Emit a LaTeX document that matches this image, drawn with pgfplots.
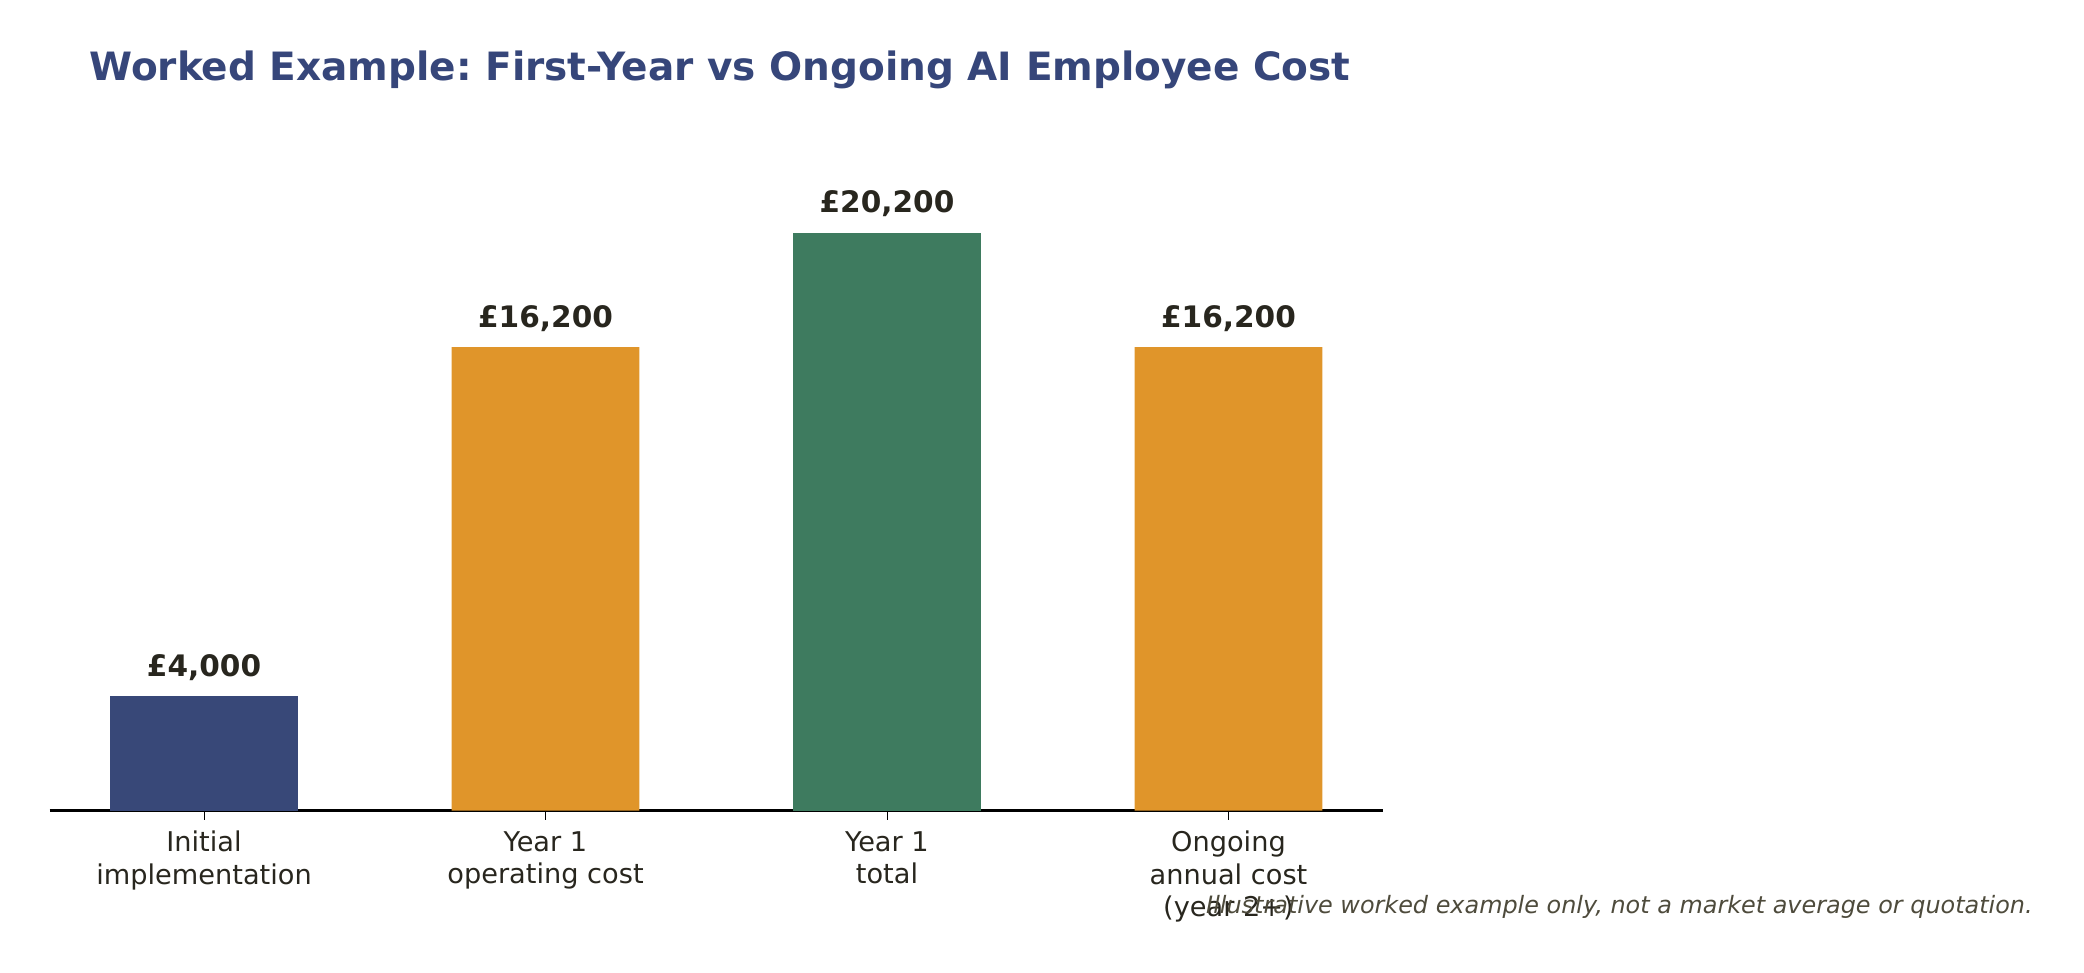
\documentclass[border=0pt]{standalone}
\usepackage{fontspec}
\setmainfont{DejaVu Sans}
\usepackage{pgfplots}
\pgfplotsset{compat=1.18}
\frenchspacing
\definecolor{titlec}{RGB}{54,70,122}
\definecolor{navy}{RGB}{56,72,120}
\definecolor{orange}{RGB}{224,149,42}
\definecolor{green}{RGB}{62,123,95}
\definecolor{labc}{RGB}{40,38,30}
\definecolor{footc}{RGB}{78,75,60}
\begin{document}
\begin{tikzpicture}
\useasboundingbox (0,0) rectangle (1042pt,486.5pt);
\node[anchor=base west, inner sep=0pt, text=titlec, font=\bfseries\fontsize{19.5}{23}\selectfont] at (44.5pt,446pt) {Worked Example: First-Year vs Ongoing AI Employee Cost};
\begin{axis}[
  at={(24.75pt,81.15pt)}, anchor=south west,
  scale only axis, width=666.75pt, height=303.5pt,
  xmin=-0.4525, xmax=3.4525, ymin=0, ymax=21210,
  axis x line*=bottom, axis y line=none,
  x axis line style={-, line width=1.2pt, black},
  xtick={0,1,2,3},
  xticklabels={{Initial\\implementation},{Year 1\\operating cost},{Year 1\\total},{Ongoing\\annual cost\\(year 2+)}},
  xticklabel style={align=center, anchor=north, inner sep=0pt, yshift=-5.6pt, text=labc, font=\fontsize{13.6}{16.1}\selectfont},
  tick align=outside, major tick length=4.5pt,
  every tick/.style={black, line width=0.5pt},
  ybar, bar width=0.55, bar shift=0pt,
  point meta=explicit symbolic,
  nodes near coords,
  nodes near coords style={anchor=base, inner sep=0pt, yshift=9.9pt, text=labc, font=\bfseries\fontsize{14.8}{17}\selectfont},
  clip=false,
]
\addplot[draw=none, fill=navy] coordinates {(0,4000) [£4,000]};
\addplot[draw=none, fill=orange] coordinates {(1,16200) [£16,200] (3,16200) [£16,200]};
\addplot[draw=none, fill=green] coordinates {(2,20200) [£20,200]};
\end{axis}
\node[anchor=base east, inner sep=0pt, text=footc, font=\itshape\fontsize{11.95}{14}\selectfont] at (1016.5pt,29.5pt) {Illustrative worked example only, not a market average or quotation.};
\end{tikzpicture}
\end{document}
